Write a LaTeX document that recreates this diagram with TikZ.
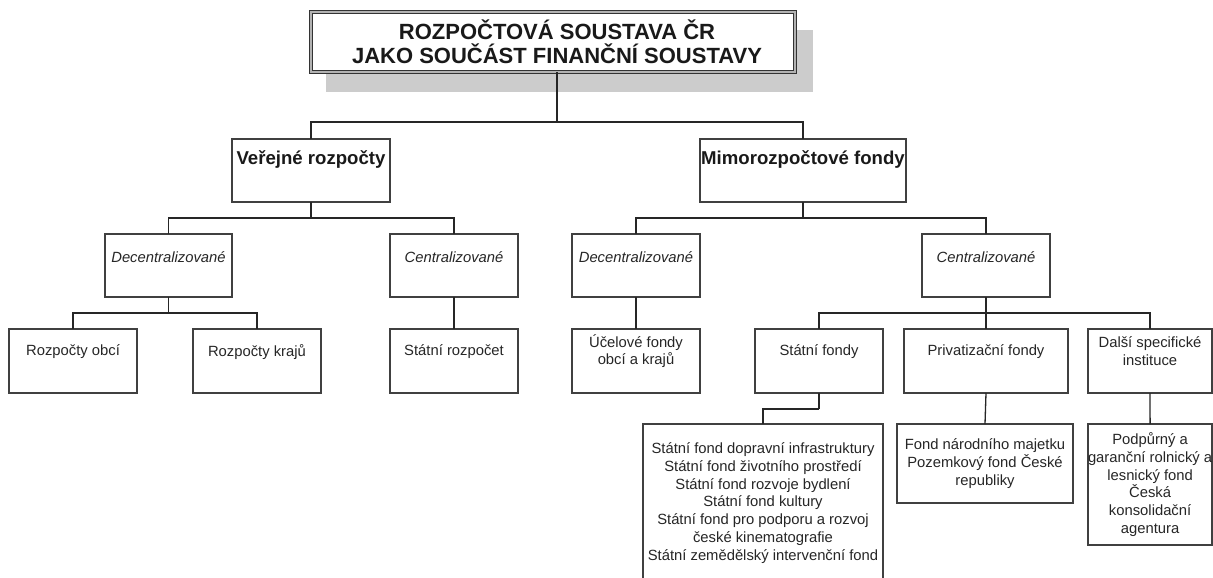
\documentclass[tikz,border=0pt]{standalone}
\usepackage{fontspec}
\setmainfont{Liberation Sans}
\usetikzlibrary{calc}
\begin{document}
\begin{tikzpicture}[x=1pt,y=-1pt,
  box/.style={draw=black!75, line width=1.5pt, fill=white, inner sep=0pt, outer sep=0pt, anchor=north west},
  lbl/.style={font=\fontsize{14.8}{17.7}\selectfont, text=black!85, align=center, inner sep=0pt},
  lbli/.style={font=\fontsize{14.8}{17.7}\selectfont\itshape, text=black!85, align=center, inner sep=0pt},
  lblb/.style={font=\fontsize{18.6}{22}\selectfont\bfseries, text=black!90, align=center, inner sep=0pt},
  titlebox/.style={draw=black!80, line width=1pt, double=gray!60, double distance=2pt, fill=white,
    inner sep=0pt, outer sep=0pt, anchor=north west},
  titletxt/.style={align=center, inner sep=0pt, font=\fontsize{22}{24}\selectfont\bfseries, text=black!90},
  conn/.style={draw=black!85, line width=1.3pt},
]
\useasboundingbox (0,0) rectangle (1213,578);
\clip (0,0) rectangle (1213,578);

% title with shadow
\fill[gray!40] (326,30) rectangle (813,92);
\node[titlebox, minimum width=484pt, minimum height=60pt] (title) at (311,12) {};
\node[titletxt] (title-t) at (557,42) {ROZPOČTOVÁ SOUSTAVA ČR\\JAKO SOUČÁST FINANČNÍ SOUSTAVY};

% level 1
\node[box, minimum width=158pt, minimum height=63pt] (vr) at (232,139) {};
\node[lblb] (vr-t) at ($(vr.north)+(0,20)$) {Veřejné rozpočty};
\node[box, minimum width=206pt, minimum height=63pt] (mf) at (700,139) {};
\node[lblb] (mf-t) at ($(mf.north)+(0,20)$) {Mimorozpočtové fondy};

% level 2
\node[box, minimum width=127pt, minimum height=63pt] (vrd) at (105,234) {};
\node[lbli] (vrd-t) at ($(vrd.north)+(0,23)$) {Decentralizované};
\node[box, minimum width=128pt, minimum height=63pt] (vrc) at (390,234) {};
\node[lbli] (vrc-t) at ($(vrc.north)+(0,23)$) {Centralizované};
\node[box, minimum width=128pt, minimum height=63pt] (mfd) at (572,234) {};
\node[lbli] (mfd-t) at ($(mfd.north)+(0,23)$) {Decentralizované};
\node[box, minimum width=128pt, minimum height=63pt] (mfc) at (922,234) {};
\node[lbli] (mfc-t) at ($(mfc.north)+(0,23)$) {Centralizované};

% level 3
\node[box, minimum width=128pt, minimum height=64pt] (ro) at (9,329) {};
\node[lbl] (ro-t) at ($(ro.north)+(0,23)$) {Rozpočty obcí};
\node[box, minimum width=128pt, minimum height=64pt] (rk) at (193,329) {};
\node[lbl] (rk-t) at ($(rk.north)+(0,23)$) {Rozpočty krajů};
\node[box, minimum width=128pt, minimum height=64pt] (sr) at (390,329) {};
\node[lbl] (sr-t) at ($(sr.north)+(0,23)$) {Státní rozpočet};
\node[box, minimum width=128pt, minimum height=64pt] (uf) at (572,329) {};
\node[lbl] (uf-t) at ($(uf.north)+(0,22)$) {Účelové fondy\\obcí a krajů};
\node[box, minimum width=128pt, minimum height=64pt] (sf) at (755,329) {};
\node[lbl] (sf-t) at ($(sf.north)+(0,23)$) {Státní fondy};
\node[box, minimum width=164pt, minimum height=64pt] (pf) at (904,329) {};
\node[lbl] (pf-t) at ($(pf.north)+(0,23)$) {Privatizační fondy};
\node[box, minimum width=124pt, minimum height=64pt] (ds) at (1088,329) {};
\node[lbl] (ds-t) at ($(ds.north)+(0,22)$) {Další specifické\\instituce};

% level 4
\node[box, lbl, minimum width=240pt, minimum height=158pt] (sfl) at (643,424)
  {Státní fond dopravní infrastruktury\\Státní fond životního prostředí\\Státní fond rozvoje bydlení\\Státní fond kultury\\Státní fond pro podporu a rozvoj\\české kinematografie\\Státní zemědělský intervenční fond};
\node[box, lbl, minimum width=176pt, minimum height=79pt] (pfl) at (897,424)
  {Fond národního majetku\\Pozemkový fond České\\republiky};
\node[box, lbl, minimum width=124pt, minimum height=121pt] (dsl) at (1088,424)
  {Podpůrný a\\garanční rolnický a\\lesnický fond\\Česká\\konsolidační\\agentura};

% junctions
\coordinate (t0) at ($(title.south)+(4,0)$);
\coordinate (j0) at (557,122);
\coordinate (j1) at ($(vr.south)+(0,16)$);
\coordinate (j2) at ($(mf.south)+(0,16)$);
\coordinate (j3) at ($(vrd.south)+(0,16)$);
\coordinate (j4) at ($(mfc.south)+(0,16)$);
\coordinate (j5) at ($(sf.south)+(0,16)$);

% connectors
\draw[conn] (t0) -- (j0);
\draw[conn] (j0) -| (vr.north);
\draw[conn] (j0) -| (mf.north);
\draw[conn] (vr.south) -- (j1);
\draw[conn] (j1) -| (vrd.north);
\draw[conn] (j1) -| (vrc.north);
\draw[conn] (mf.south) -- (j2);
\draw[conn] (j2) -| (mfd.north);
\draw[conn] (j2) -| (mfc.north);
\draw[conn] (vrd.south) -- (j3);
\draw[conn] (j3) -| (ro.north);
\draw[conn] (j3) -| (rk.north);
\draw[conn] (vrc.south) -- (sr.north);
\draw[conn] (mfd.south) -- (uf.north);
\draw[conn] (mfc.south) -- (j4);
\draw[conn] (j4) -| (sf.north);
\draw[conn] (j4) -| (pf.north);
\draw[conn] (j4) -| (ds.north);
\draw[conn] (sf.south) -- (j5);
\draw[conn] (j5) -| (sfl.north);
\draw[conn] (pf.south) -- (pfl.north);
\draw[conn] (ds.south) -- (dsl.north);
\end{tikzpicture}
\end{document}
